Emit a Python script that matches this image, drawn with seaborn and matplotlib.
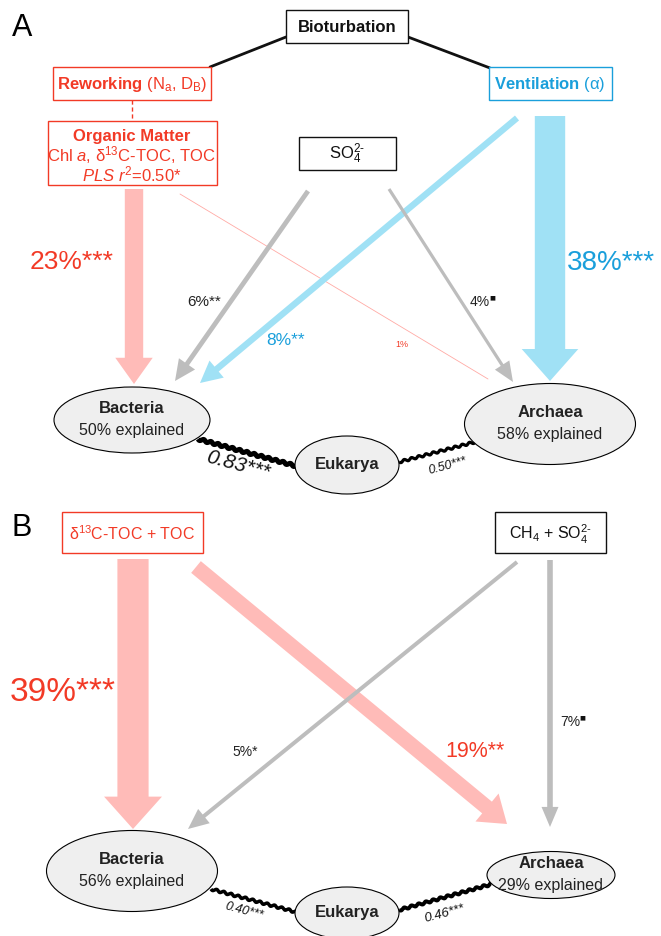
import numpy as np
import matplotlib
matplotlib.use("Agg")
import matplotlib.pyplot as plt
import seaborn as sns
from matplotlib.patches import FancyArrow, Rectangle, Ellipse

sns.set_theme(style="white")
plt.rcParams["font.family"] = ["Liberation Sans", "DejaVu Sans"]
plt.rcParams["mathtext.fontset"] = "custom"
plt.rcParams["mathtext.rm"] = "Liberation Sans"
plt.rcParams["mathtext.it"] = "Liberation Sans:italic"
plt.rcParams["mathtext.bf"] = "Liberation Sans:bold"

RED = "#f23a26"
BLUE = "#1a9fdb"
PINK = "#ffbbb8"
SKY = "#a0e1f5"
GREY = "#bdbdbd"

# panel A: explained variance of each path (%) and significance
a_paths = ["om_bac", "vent_arc", "vent_bac", "so4_bac", "so4_arc", "om_arc"]
a_pct = [23, 38, 8, 6, 4, 1]
a_sig = ["***", "***", "**", "**", "sq", ""]
a_kind = ["om", "vent", "vent", "so4", "so4", "om"]
a_explained = {"Bacteria": 50, "Archaea": 58}
a_cov = [0.83, 0.50]

# panel B
b_paths = ["toc_bac", "toc_arc", "ch4_arc", "ch4_bac"]
b_pct = [39, 19, 7, 5]
b_sig = ["***", "**", "sq", "*"]
b_kind = ["om", "om", "so4", "so4"]
b_explained = {"Bacteria": 56, "Archaea": 29}
b_cov = [0.40, 0.46]

arrow_color = {"om": PINK, "vent": SKY, "so4": GREY}
label_color = {"om": RED, "vent": BLUE, "so4": "#222222"}

# layout (pixel coordinates, y down)
arrow_xy = {
    "om_bac": ((134, 190), (134, 385)),
    "vent_arc": ((550, 117), (550, 382)),
    "vent_bac": ((517, 119), (200, 384)),
    "so4_bac": ((308, 192), (175, 382)),
    "so4_arc": ((389, 190), (513, 383)),
    "om_arc": ((180, 195), (488, 380)),
    "toc_bac": ((133, 560), (133, 830)),
    "toc_arc": ((196, 568), (507, 825)),
    "ch4_arc": ((550, 561), (550, 828)),
    "ch4_bac": ((517, 563), (188, 830)),
}
label_xy = {
    "om_bac": (30, 262, 19), "vent_arc": (567, 263, 20), "vent_bac": (266, 341, 12.5),
    "so4_bac": (187, 302, 11), "so4_arc": (470, 302, 10), "om_arc": (395, 345, 6.5),
    "toc_bac": (10, 693, 24), "toc_arc": (445, 752, 15.5), "ch4_arc": (560, 722, 10),
    "ch4_bac": (232, 752, 10),
}
ellipses = {
    "A": {"Bacteria": (132, 421, 156, 66), "Archaea": (550, 425, 171, 81), "Eukarya": (347, 466, 104, 58)},
    "B": {"Bacteria": (132, 872, 171, 81), "Archaea": (551, 876, 128, 47), "Eukarya": (347, 914, 104, 52)},
}
waves = {
    "A": [((198, 440), (296, 467), 3.6, (238, 465, -15, 15)), ((399, 463), (475, 443), 2.3, (448, 466, 15, 9))],
    "B": [((211, 890), (296, 913), 2.5, (244, 911, -15, 9)), ((399, 911), (492, 885), 2.8, (445, 914, 15, 9.5))],
}

fig = plt.figure(figsize=(6.61, 9.37), dpi=100)
ax = fig.add_axes([0, 0, 1, 1])
ax.set_xlim(0, 661)
ax.set_ylim(937, 0)
ax.axis("off")


def draw_arrow(name, pct, kind):
    (x0, y0), (x1, y1) = arrow_xy[name]
    w = max(0.8 * pct, 0.8)
    if pct < 2:
        ax.plot([x0, x1], [y0, y1], color="#ffaaa5", lw=0.6, zorder=1)
        return
    hw = 1.6 * w + 8
    if x0 != x1:
        hw += 4
    hl = 0.3 * hw + 15
    ax.add_patch(FancyArrow(x0, y0, x1 - x0, y1 - y0, width=w, head_width=hw,
                            head_length=hl, length_includes_head=True,
                            color=arrow_color[kind], lw=0, zorder=2))


def draw_label(name, pct, sig, kind):
    x, y, fs = label_xy[name]
    col = RED if name == "om_arc" else label_color[kind]
    if sig == "sq":
        t = ax.text(x, y, f"{pct}%", color=col, fontsize=fs, va="center", ha="left", zorder=5)
        ax.annotate("■", xy=(1, 0.95), xycoords=t, fontsize=4.5, va="top", ha="left",
                    color="#111111", family="DejaVu Sans", xytext=(-0.5, 0), textcoords="offset points")
    else:
        ax.text(x, y, f"{pct}%{sig}", color=col, fontsize=fs, va="center", ha="left", zorder=5)


def wavy(p0, p1, lw, amp=1.1, wl=7.5):
    p0, p1 = np.array(p0, float), np.array(p1, float)
    d = p1 - p0
    L = np.hypot(*d)
    u = d / L
    n = np.array([-u[1], u[0]])
    t = np.linspace(0, L, 300)
    pts = p0 + np.outer(t, u) + np.outer(amp * np.sin(2 * np.pi * t / wl), n)
    ax.plot(pts[:, 0], pts[:, 1], color="black", lw=lw, solid_capstyle="butt",
            solid_joinstyle="round", zorder=3)


def box(x, y, w, h, ec):
    ax.add_patch(Rectangle((x, y), w, h, fc="white", ec=ec, lw=1.0, zorder=4))


def draw_nodes(panel, explained, cov):
    for name, (cx, cy, w, h) in ellipses[panel].items():
        ax.add_patch(Ellipse((cx, cy), w, h, fc="#efefef", ec="black", lw=0.8, zorder=4))
        if name == "Eukarya":
            ax.text(cx, cy - 1, name, fontsize=12, fontweight="bold", ha="center", va="center", color="#222222", zorder=5)
        else:
            ax.text(cx, cy - 12, name, fontsize=12, fontweight="bold", ha="center", va="center", color="#222222", zorder=5)
            ax.text(cx, cy + 10, f"{explained[name]}% explained", fontsize=11.5, ha="center", va="center", color="#222222", zorder=5)
    for (p0, p1, lw, (tx, ty, rot, fs)), c in zip(waves[panel], cov):
        wavy(p0, p1, lw)
        ax.text(tx, ty, f"{c:.2f}***", fontsize=fs, style="italic", rotation=rot,
                ha="center", va="center", color="#111111", rotation_mode="anchor", zorder=5)


# ---- panel A ----
ax.text(12, 28, "A", fontsize=22, ha="left", va="center", color="black")
ax.plot([286, 210], [38, 68], color="#111111", lw=2, zorder=3)
ax.plot([408, 490], [38, 69], color="#111111", lw=2, zorder=3)
for p, v, s, k in zip(a_paths, a_pct, a_sig, a_kind):
    draw_arrow(p, v, k)
for p, v, s, k in zip(a_paths, a_pct, a_sig, a_kind):
    draw_label(p, v, s, k)

box(286, 11, 122, 33, "#111111")
ax.text(347, 28, "Bioturbation", fontsize=12, fontweight="bold", ha="center", va="center", color="#111111", zorder=5)
box(53, 68, 158, 33, RED)
ax.text(132, 85, r"$\mathbf{Reworking}$ (N$_\mathrm{a}$, D$_\mathrm{B}$)", fontsize=12, ha="center", va="center", color=RED, zorder=5)
ax.plot([132, 132], [101, 122], color=RED, lw=1, ls=(0, (3, 2)), zorder=3)
box(48, 122, 169, 64, RED)
ax.text(132, 136, "Organic Matter", fontsize=12, fontweight="bold", ha="center", va="center", color=RED, zorder=5)
ax.text(132, 155, r"Chl $a$, δ$^{13}$C-TOC, TOC", fontsize=12, ha="center", va="center", color=RED, zorder=5)
ax.text(132, 174, r"$\mathit{PLS\ r}^{2}$=0.50*", fontsize=12, ha="center", va="center", color=RED, zorder=5)
box(489, 68, 123, 33, BLUE)
ax.text(550, 85, r"$\mathbf{Ventilation}$ (α)", fontsize=12, ha="center", va="center", color=BLUE, zorder=5)
box(299, 138, 97, 33, "#111111")
ax.text(347, 154, r"SO$_4^{2\text{-}}$", fontsize=12, ha="center", va="center", color="#111111", zorder=5)
draw_nodes("A", a_explained, a_cov)

# ---- panel B ----
ax.text(12, 528, "B", fontsize=22, ha="left", va="center", color="black")
for p, v, s, k in zip(b_paths, b_pct, b_sig, b_kind):
    draw_arrow(p, v, k)
for p, v, s, k in zip(b_paths, b_pct, b_sig, b_kind):
    draw_label(p, v, s, k)
box(62, 513, 141, 41, RED)
ax.text(132, 534, r"δ$^{13}$C-TOC + TOC", fontsize=11.5, ha="center", va="center", color=RED, zorder=5)
box(495, 513, 111, 41, "#111111")
ax.text(550, 534, r"CH$_4$ + SO$_4^{2\text{-}}$", fontsize=11.5, ha="center", va="center", color="#111111", zorder=5)
draw_nodes("B", b_explained, b_cov)

fig.savefig("out.png", dpi=100)
